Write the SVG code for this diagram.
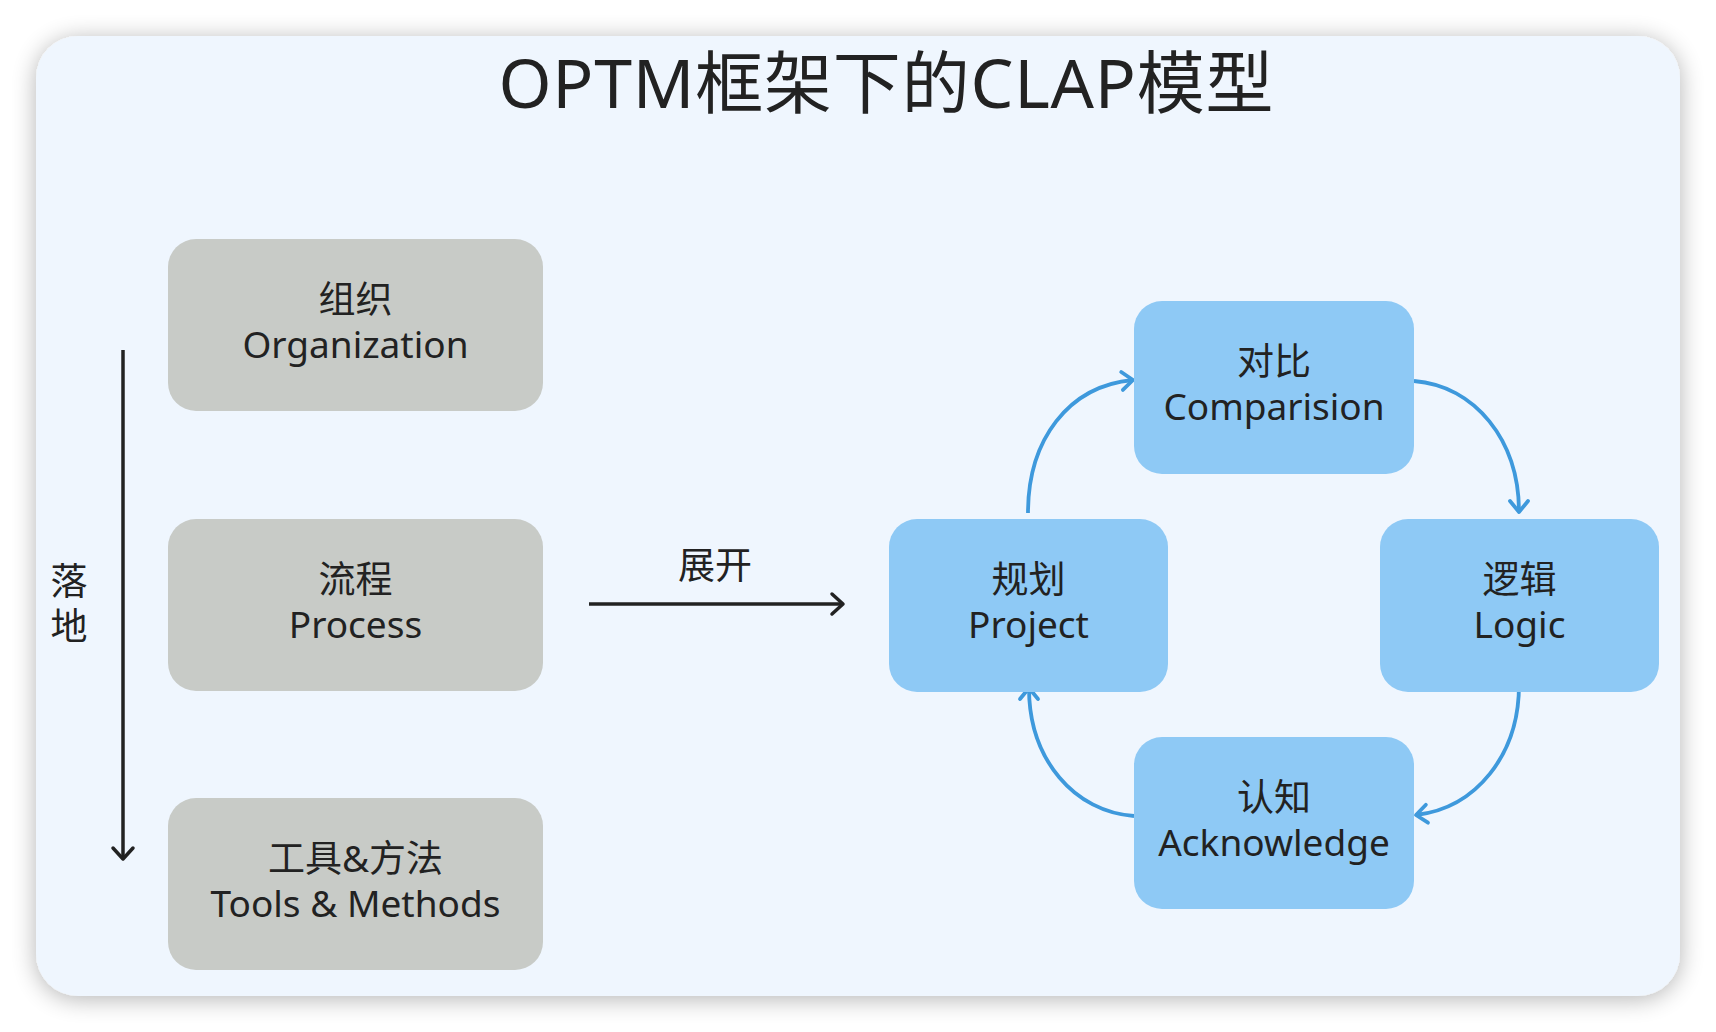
<svg xmlns="http://www.w3.org/2000/svg" width="1716" height="1032" viewBox="0 0 1716 1032">
  <style>
    .txt { font-family: "Noto Sans", "Noto Sans CJK SC", sans-serif; fill: #222222; }
    .lbl { font-size: 37px; text-anchor: middle; }
    .gray { fill: #c8cbc7; }
    .blue { fill: #8ec9f5; }
    .dark { fill: none; stroke: #222222; stroke-width: 3.5; }
    .flow { fill: none; stroke: #3e99dc; stroke-width: 3.8; }
  </style>
  <defs>
    <filter id="shadow" x="-10%" y="-10%" width="120%" height="125%">
      <feGaussianBlur in="SourceAlpha" stdDeviation="12"/>
      <feOffset dy="3" result="b"/>
      <feComponentTransfer in="b" result="s"><feFuncA type="linear" slope="0.3"/></feComponentTransfer>
      <feMerge><feMergeNode in="s"/><feMergeNode in="SourceGraphic"/></feMerge>
    </filter>
    <marker id="arrDark" markerUnits="userSpaceOnUse" markerWidth="28" markerHeight="28" viewBox="0 0 28 28" refX="23" refY="14" orient="auto">
      <path d="M12,4 L23,14 L12,24" fill="none" stroke="#222222" stroke-width="3.5" stroke-linecap="round" stroke-linejoin="round"/>
    </marker>
    <marker id="arrBlue" markerUnits="userSpaceOnUse" markerWidth="28" markerHeight="28" viewBox="0 0 28 28" refX="23" refY="14" orient="auto">
      <path d="M12,5 L23,14 L12,23" fill="none" stroke="#3e99dc" stroke-width="3.8" stroke-linecap="round" stroke-linejoin="round"/>
    </marker>
  </defs>

  <rect x="0" y="0" width="1716" height="1032" fill="#ffffff"/>
  <rect id="panel" x="36" y="36" width="1644" height="960" rx="42" ry="42" fill="#eff6fe" filter="url(#shadow)"/>

  <text id="title" class="txt" x="886" y="108" font-size="68" text-anchor="middle" textLength="775" lengthAdjust="spacing">OPTM框架下的CLAP模型</text>

  <g id="connectors">
    <line class="dark" x1="123" y1="350" x2="123" y2="859" marker-end="url(#arrDark)"/>
    <line class="dark" x1="589" y1="604" x2="843" y2="604" marker-end="url(#arrDark)"/>
    <path class="flow" d="M1028,513 C1028,440 1068,386 1133,380" marker-end="url(#arrBlue)"/>
    <path class="flow" d="M1414,381 C1475,386 1519,440 1519,512" marker-end="url(#arrBlue)"/>
    <path class="flow" d="M1519,685 C1519,755 1476,808 1416,815" marker-end="url(#arrBlue)"/>
    <path class="flow" d="M1134,816 C1075,812 1029,760 1029,688" marker-end="url(#arrBlue)"/>
  </g>

  <g id="label-ludi">
    <text class="txt" font-size="37" text-anchor="middle"><tspan x="69" y="595">落</tspan><tspan x="69" y="640">地</tspan></text>
  </g>
  <g id="label-zhankai">
    <text class="txt" x="715" y="579" font-size="37" text-anchor="middle">展开</text>
  </g>

  <g id="node-organization">
    <rect class="gray" x="168" y="239" width="375" height="172" rx="28"/>
    <text class="txt lbl"><tspan x="355.5" y="313">组织</tspan><tspan x="355.5" y="358">Organization</tspan></text>
  </g>
  <g id="node-process">
    <rect class="gray" x="168" y="519" width="375" height="172" rx="28"/>
    <text class="txt lbl"><tspan x="355.5" y="593">流程</tspan><tspan x="355.5" y="638">Process</tspan></text>
  </g>
  <g id="node-tools">
    <rect class="gray" x="168" y="798" width="375" height="172" rx="28"/>
    <text class="txt lbl"><tspan x="355.5" y="872">工具&amp;方法</tspan><tspan x="355.5" y="917">Tools &amp; Methods</tspan></text>
  </g>

  <g id="node-comparision">
    <rect class="blue" x="1134" y="301" width="280" height="173" rx="28"/>
    <text class="txt lbl"><tspan x="1274" y="375">对比</tspan><tspan x="1274" y="420">Comparision</tspan></text>
  </g>
  <g id="node-project">
    <rect class="blue" x="889" y="519" width="279" height="173" rx="28"/>
    <text class="txt lbl"><tspan x="1028.5" y="593">规划</tspan><tspan x="1028.5" y="638">Project</tspan></text>
  </g>
  <g id="node-logic">
    <rect class="blue" x="1380" y="519" width="279" height="173" rx="28"/>
    <text class="txt lbl"><tspan x="1519.5" y="593">逻辑</tspan><tspan x="1519.5" y="638">Logic</tspan></text>
  </g>
  <g id="node-acknowledge">
    <rect class="blue" x="1134" y="737" width="280" height="172" rx="28"/>
    <text class="txt lbl"><tspan x="1274" y="811">认知</tspan><tspan x="1274" y="856">Acknowledge</tspan></text>
  </g>
</svg>
